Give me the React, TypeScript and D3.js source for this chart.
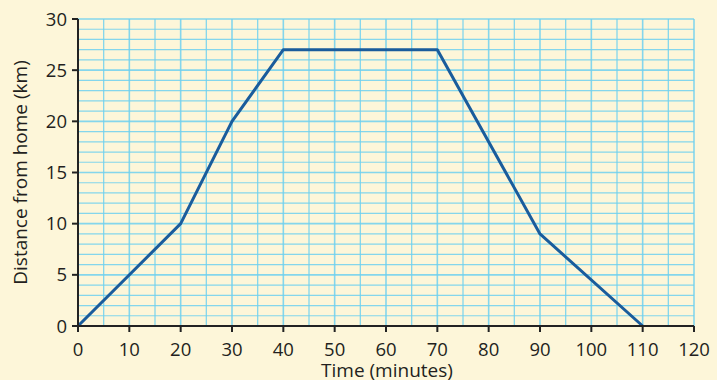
import React from "react";
import * as d3 from "d3";

const times = [0, 20, 30, 40, 70, 90, 110];
const distances = [0, 10, 20, 27, 27, 9, 0];
const xTicks = [0, 10, 20, 30, 40, 50, 60, 70, 80, 90, 100, 110, 120];
const yTicks = [0, 5, 10, 15, 20, 25, 30];
const xLabel = "Time (minutes)";
const yLabel = "Distance from home (km)";

export default function App() {
  const W = 717, H = 380;
  const x = d3.scaleLinear().domain([0, 120]).range([78, 694]);
  const y = d3.scaleLinear().domain([0, 30]).range([326, 19]);
  const vGrid = d3.range(5, 121, 5);
  const hGrid = d3.range(1, 31, 1);
  const pts = times.map((t, i) => [t, distances[i]] as [number, number]);
  const line = d3.line<[number, number]>().x(d => x(d[0])).y(d => y(d[1]));
  const font = "'Open Sans', 'Noto Sans', sans-serif";
  return (
    <div style={{ position: "absolute", left: 0, top: 0 }}>
      <svg width={W} height={H} style={{ display: "block" }}>
        <rect width={W} height={H} fill="#fdf6d9" />
        {hGrid.map(v => (
          <line key={"h" + v} x1={x(0)} x2={x(120)} y1={y(v)} y2={y(v)}
            stroke="#6fd0ee" strokeWidth={v % 5 === 0 ? 1.6 : 1.2} strokeOpacity={0.85} />
        ))}
        {vGrid.map(v => (
          <line key={"v" + v} x1={x(v)} x2={x(v)} y1={y(0)} y2={y(30)}
            stroke="#6fd0ee" strokeWidth={v % 10 === 0 ? 1.6 : 1.3} strokeOpacity={0.85} />
        ))}
        <path d={line(pts) || ""} fill="none" stroke="#1a5c9c" strokeWidth={3} strokeLinejoin="round" />
        <line x1={x(0)} x2={x(0)} y1={y(0)} y2={y(30)} stroke="#222" strokeWidth={2} />
        <line x1={x(0)} x2={x(120)} y1={y(0)} y2={y(0)} stroke="#222" strokeWidth={2} />
        {yTicks.map(v => (
          <g key={"yt" + v}>
            <line x1={x(0) - 6} x2={x(0)} y1={y(v)} y2={y(v)} stroke="#222" strokeWidth={2} />
            <text x={x(0) - 11} y={y(v)} dy="0.36em" textAnchor="end" fontSize={18.5}
              fontFamily={font} fill="#231f20">{v}</text>
          </g>
        ))}
        {xTicks.map(v => (
          <g key={"xt" + v}>
            <line x1={x(v)} x2={x(v)} y1={y(0)} y2={y(0) + 6} stroke="#222" strokeWidth={2} />
            <text x={x(v)} y={356} textAnchor="middle" fontSize={18.5}
              fontFamily={font} fill="#231f20">{v}</text>
          </g>
        ))}
        <text x={387} y={377} textAnchor="middle" fontSize={19} fontFamily={font} fill="#231f20">{xLabel}</text>
        <text transform={`translate(27,${(y(0) + y(30)) / 2}) rotate(-90)`} textAnchor="middle"
          fontSize={19} fontFamily={font} fill="#231f20">{yLabel}</text>
      </svg>
    </div>
  );
}
